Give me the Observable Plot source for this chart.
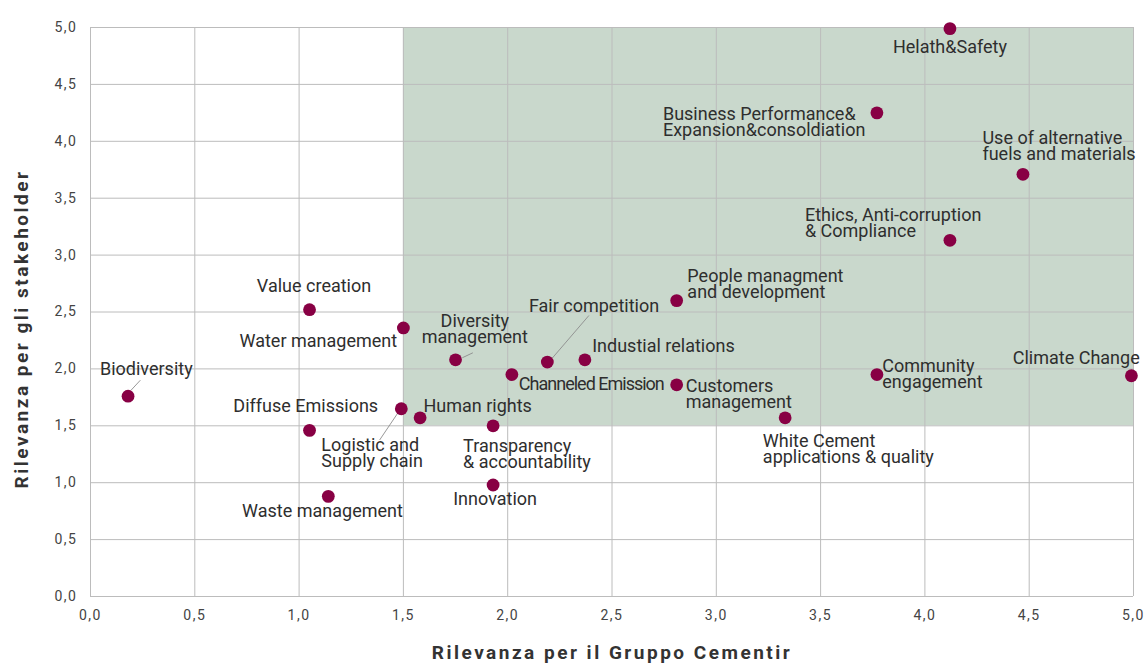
<!DOCTYPE html>
<html><head><meta charset="utf-8">
<script src="https://cdn.jsdelivr.net/npm/d3@7"></script>
<script src="https://cdn.jsdelivr.net/npm/@observablehq/plot@0.6"></script>
<style>html,body{margin:0;padding:0;background:#fff;overflow:hidden}</style>
</head><body><div id="chart"></div>
<script>
// ---- data ----
const topics = [
  "Helath&Safety",
  "Business Performance&\nExpansion&consoldiation",
  "Use of alternative\nfuels and materials",
  "Ethics, Anti-corruption\n& Compliance",
  "People managment\nand development",
  "Value creation",
  "Water management",
  "Diversity\nmanagement",
  "Fair competition",
  "Industial relations",
  "Channeled Emission",
  "Customers\nmanagement",
  "Human rights",
  "Transparency\n& accountability",
  "Innovation",
  "Logistic and\nSupply chain",
  "Diffuse Emissions",
  "Waste management",
  "Biodiversity",
  "White Cement\napplications & quality",
  "Community\nengagement",
  "Climate Change"
];
const groupRelevance = [4.12, 3.77, 4.47, 4.12, 2.81, 1.05, 1.50, 1.75, 2.19, 2.37, 2.02, 2.81, 1.58, 1.93, 1.93, 1.49, 1.05, 1.14, 0.18, 3.33, 3.77, 4.99];
const stakeholderRelevance = [4.99, 4.25, 3.71, 3.13, 2.60, 2.52, 2.36, 2.08, 2.06, 2.08, 1.95, 1.86, 1.57, 1.50, 0.98, 1.65, 1.46, 0.88, 1.76, 1.57, 1.95, 1.94];
const axisTicks = [0, 0.5, 1, 1.5, 2, 2.5, 3, 3.5, 4, 4.5, 5];
const priorityZone = [{x1: 1.5, x2: 5, y1: 1.5, y2: 5}];
const xTitle = "Rilevanza per il Gruppo Cementir";
const yTitle = "Rilevanza per gli stakeholder";

// ---- layout: label placement (pixels, relative to the point) ----
const labelAnchor = ["middle","start","start","start","start","middle","end","middle","middle","start","start","start","start","start","middle","start","end","middle","middle","start","start","end"];
const labelDx = [0, -214, -40.5, -145, 10.7, 4.5, -6.3, 19.3, 46.7, 7.3, 7, 9, 3.4, -30, 2, -80, 68.6, -5.8, 18.3, -22.3, 5.4, 8.3];
const labelDy = [11.7, -6, -42.7, -32, -31.4, -31, 6.3, -46, -63, -20.6, 2.4, -5.6, -18.4, 13.6, 7, 29.6, -31, 7.7, -34.3, 16.3, -15.3, -24.6];
const condensedLabels = ["Channeled Emission"];
const leaders = [
  {topic: "Biodiversity", from: [3, -6], to: [12.3, -16]},
  {topic: "Fair competition", from: [5, -4], to: [41.6, -46.6]},
  {topic: "Diversity\nmanagement", from: [6.7, -2], to: [17.3, -7]},
  {topic: "Logistic and\nSupply chain", from: [-3.7, 4.6], to: [-21.7, 31.3]}
];

const W = 1146, H = 664, ML = 90, MR = 13, MT = 27, MB = 68;
const FS = 18, LH = 0.89;
const kx = 5 / (W - ML - MR), ky = 5 / (H - MT - MB);
const fmt = d => d3.format(".1f")(d).replace(".", ",");

const points = topics.map((t, i) => ({topic: t, x: groupRelevance[i], y: stakeholderRelevance[i]}));
const byTopic = new Map(points.map(p => [p.topic, p]));
const links = leaders.map(l => {
  const p = byTopic.get(l.topic);
  return {x1: p.x + l.from[0] * kx, y1: p.y - l.from[1] * ky, x2: p.x + l.to[0] * kx, y2: p.y - l.to[1] * ky};
});

const labelMarks = points.map((p, i) => Plot.text([p], {
  x: "x", y: "y", text: "topic",
  textAnchor: labelAnchor[i],
  lineAnchor: "top",
  lineHeight: LH,
  dx: labelDx[i],
  dy: labelDy[i] + FS * 0.71 * (1 - LH),
  fontSize: FS,
  fill: "#2e2e2e"
}));

const chart = Plot.plot({
  width: W, height: H,
  marginLeft: ML, marginRight: MR, marginTop: MT, marginBottom: MB,
  style: {fontFamily: "Roboto, 'Noto Sans', sans-serif", fontSize: "14px", color: "#444", background: "#fff"},
  x: {domain: [0, 5], ticks: axisTicks, tickFormat: fmt, label: null},
  y: {domain: [0, 5], ticks: axisTicks, tickFormat: fmt, label: null},
  marks: [
    Plot.rect(priorityZone, {x1: "x1", x2: "x2", y1: "y1", y2: "y2", fill: "#c9d8cc"}),
    Plot.gridX(axisTicks, {stroke: "#bcbcbc", strokeOpacity: 1, strokeWidth: 1}),
    Plot.gridY(axisTicks, {stroke: "#bcbcbc", strokeOpacity: 1, strokeWidth: 1}),
    Plot.axisX(axisTicks, {tickSize: 0, tickPadding: 14, tickFormat: fmt, fill: "#444", fontSize: 14}),
    Plot.axisY(axisTicks, {tickSize: 0, tickPadding: 13, tickFormat: fmt, fill: "#444", fontSize: 14}),
    Plot.link(links, {x1: "x1", y1: "y1", x2: "x2", y2: "y2", stroke: "#8c8c8c", strokeWidth: 0.9}),
    Plot.dot(points, {x: "x", y: "y", r: 6.4, fill: "#880044", stroke: "none"}),
    ...labelMarks,
    Plot.text([xTitle], {frameAnchor: "bottom", textAnchor: "middle", dy: 56, lineAnchor: "middle", fontSize: 19, fontWeight: "bold", fill: "#333"}),
    Plot.text([yTitle], {frameAnchor: "left", textAnchor: "middle", dx: -69, dy: 17, rotate: -90, lineAnchor: "middle", fontSize: 19, fontWeight: "bold", fill: "#333"})
  ]
});

d3.select(chart).selectAll("text").each(function() {
  const t = this.textContent;
  if (/^\d,\d$/.test(t)) this.style.letterSpacing = "1.5px";
  if (t === xTitle || t === yTitle) this.style.letterSpacing = "2.5px";
  if (condensedLabels.includes(t)) this.style.letterSpacing = "-1px";
});
document.getElementById("chart").appendChild(chart);
</script>
</body></html>
